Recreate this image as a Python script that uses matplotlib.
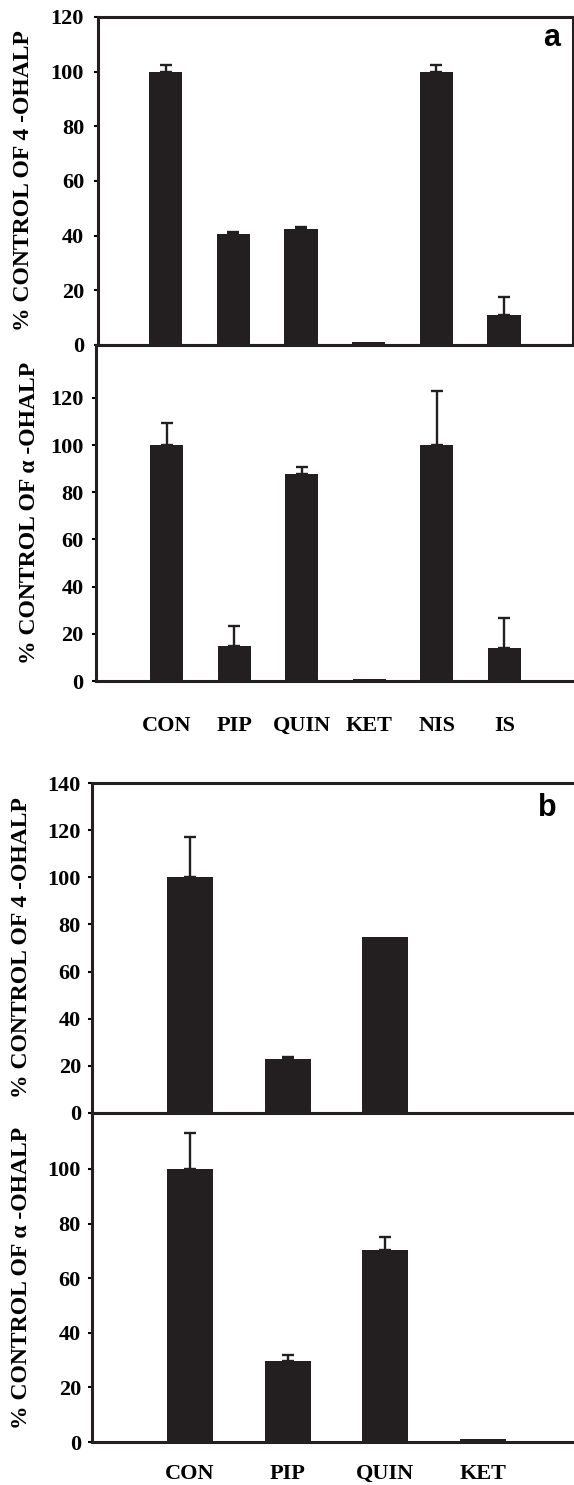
# -*- coding: utf-8 -*-
"""
Inhibition of 4-OHALP / alpha-OHALP formation - four bar panels (a, b)
output: out.png
"""

import matplotlib
matplotlib.use("Agg")
import matplotlib.pyplot as plt

plt.rcParams["font.family"] = ["Liberation Serif", "DejaVu Serif"]
plt.rcParams["font.weight"] = "bold"

# ── data ─────────────────────────────────────────────
cats_a = ["CON", "PIP", "QUIN", "KET", "NIS", "IS"]
a_4oh = [100, 40.5, 42.5, 1.0, 100, 11]
a_4oh_err = [2.4, 0.7, 0.8, 0.0, 2.4, 6.5]
a_alpha = [100, 14.8, 87.7, 1.0, 100, 13.8]
a_alpha_err = [9.5, 8.6, 3.0, 0.0, 23, 13]

cats_b = ["CON", "PIP", "QUIN", "KET"]
b_4oh = [100, 23, 74.7, 0]
b_4oh_err = [17, 0.6, 0, 0]
b_alpha = [100, 29.5, 70.5, 1.0]
b_alpha_err = [13, 2.2, 4.7, 0]

ylabel_4 = "% CONTROL OF 4 -OHALP"
ylabel_alpha = "% CONTROL OF α -OHALP"

BAR_COLOR = "#231f20"
W, H = 574, 1485


def px_rect(left, right, top, bottom):
    # pixel box -> figure fraction
    return [left / W, 1 - bottom / H, (right - left) / W, (bottom - top) / H]


def draw_panel(ax, vals, errs, width, ylim, yticks, ylabel, label_x, pad):
    x = range(1, len(vals) + 1)
    ax.bar(x, vals, width=width, color=BAR_COLOR, zorder=2)
    xs = [xi for xi, e in zip(x, errs) if e > 0]
    ys = [v for v, e in zip(vals, errs) if e > 0]
    es = [e for e in errs if e > 0]
    if xs:
        ax.errorbar(xs, ys, yerr=[[0] * len(es), es], fmt="none",
                    ecolor=BAR_COLOR, elinewidth=1.7, capsize=4,
                    capthick=1.7, zorder=3)
    ax.set_ylim(*ylim)
    ax.set_yticks(yticks)
    ax.set_yticklabels([str(t) for t in yticks], fontsize=16,
                       fontweight="bold")
    ax.tick_params(axis="y", direction="out", length=3, width=1.5, pad=pad)
    ax.tick_params(axis="x", length=0)
    ax.set_ylabel(ylabel, fontsize=17, fontweight="bold")
    ax.yaxis.set_label_coords(label_x, 0.5)
    for s in ax.spines.values():
        s.set_linewidth(2.2)
        s.set_color(BAR_COLOR)


fig = plt.figure(figsize=(W / 100, H / 100), dpi=100)

# ── (a) upper ──
ax1 = fig.add_axes(px_rect(98, 573, 17, 345))
draw_panel(ax1, a_4oh, a_4oh_err, 0.49, (0, 120), range(0, 121, 20),
           ylabel_4, -0.135, 7)
ax1.set_xlim(0, 7.02)
ax1.set_xticks([])
ax1.text(0.955, 0.935, "a", transform=ax1.transAxes, fontsize=22,
         fontweight="bold", family="Liberation Sans", ha="center", va="center")

# ── (a) lower ──
ax2 = fig.add_axes(px_rect(96, 574, 345, 681))
draw_panel(ax2, a_alpha, a_alpha_err, 0.49, (0, 142.4), range(0, 121, 20),
           ylabel_alpha, -0.118, 6)
ax2.set_xlim(-0.05, 7.03)
ax2.spines["right"].set_visible(False)
ax2.set_xticks(range(1, len(cats_a) + 1))
ax2.set_xticklabels(cats_a, fontsize=16, fontweight="bold")
ax2.tick_params(axis="x", pad=25)

# ── (b) upper ──
ax3 = fig.add_axes(px_rect(92, 574, 783, 1113))
draw_panel(ax3, b_4oh, b_4oh_err, 0.47, (0, 140), range(0, 141, 20),
           ylabel_4, -0.125, 5)
ax3.set_xlim(0, 4.93)
ax3.set_xticks([])
ax3.spines["right"].set_visible(False)
ax3.text(0.945, 0.925, "b", transform=ax3.transAxes, fontsize=22,
         fontweight="bold", family="Liberation Sans", ha="center", va="center")

# ── (b) lower ──
ax4 = fig.add_axes(px_rect(92, 574, 1113, 1442))
draw_panel(ax4, b_alpha, b_alpha_err, 0.47, (0, 120.5), range(0, 101, 20),
           ylabel_alpha, -0.125, 5)
ax4.set_xlim(0, 4.93)
ax4.spines["right"].set_visible(False)
ax4.set_xticks(range(1, len(cats_b) + 1))
ax4.set_xticklabels(cats_b, fontsize=16, fontweight="bold")
ax4.tick_params(axis="x", pad=16)

fig.savefig("out.png", dpi=100)
